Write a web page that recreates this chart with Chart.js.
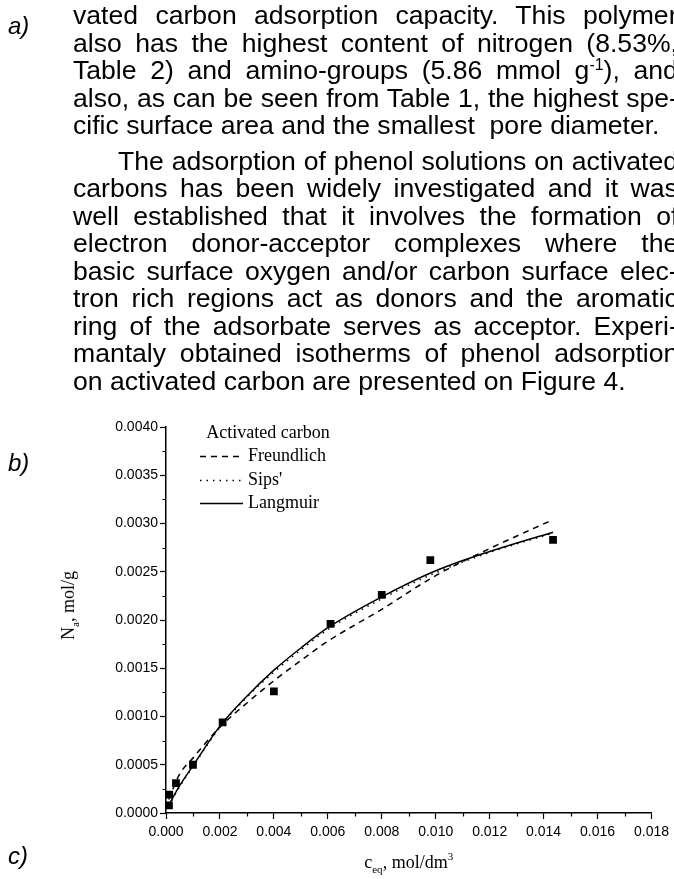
<!DOCTYPE html>
<html>
<head>
<meta charset="utf-8">
<script src="https://cdn.jsdelivr.net/npm/chart.js@4.4.1/dist/chart.umd.min.js"></script>
<style>
html, body { margin: 0; padding: 0; background: #fff; }
body { width: 674px; height: 879px; position: relative; overflow: hidden; color: #000;
       font-family: "Liberation Sans", Arial, sans-serif; }
#chart { position: absolute; left: 0; top: 0; }
.ln { position: absolute; left: 73px; white-space: nowrap; line-height: 28px; font-size: 25px; }
.ln span { display: inline-block; }
.ln sup { font-size: 60%; vertical-align: 9px; line-height: 0; }
.tag { position: absolute; left: 8px; font-style: italic; font-size: 24px; }
.ttl { position: absolute; font-family: "Liberation Serif", "Times New Roman", serif; font-size: 18px; white-space: nowrap; }
.ttl sub { font-size: 11px; vertical-align: -5px; line-height: 0; }
.ttl sup { font-size: 11px; vertical-align: 8px; line-height: 0; }
</style>
</head>
<body>
<canvas id="chart" width="674" height="879"></canvas>

<div class="tag" style="top:12px">a)</div>
<div class="tag" style="top:449px">b)</div>
<div class="tag" style="top:842px">c)</div>

<div class="ln j" style="top:1px"><span>vated carbon adsorption capacity. This polymer</span></div>
<div class="ln j" style="top:28.5px"><span>also has the highest content of nitrogen (8.53%,</span></div>
<div class="ln j" style="top:56px"><span>Table 2) and amino-groups (5.86 mmol g<sup>-1</sup>), and</span></div>
<div class="ln j" style="top:83.5px"><span>also, as can be seen from Table 1, the highest spe-</span></div>
<div class="ln" id="fitline" style="top:111px"><span>cific surface area and the smallest&nbsp; pore diameter.</span></div>
<div class="ln j" style="top:146.5px; left:118px" data-indent="45"><span>The adsorption of phenol solutions on activated</span></div>
<div class="ln j" style="top:174px"><span>carbons has been widely investigated and it was</span></div>
<div class="ln j" style="top:201.5px"><span>well established that it involves the formation of</span></div>
<div class="ln j" style="top:229px"><span>electron donor-acceptor complexes where the</span></div>
<div class="ln j" style="top:256.5px"><span>basic surface oxygen and/or carbon surface elec-</span></div>
<div class="ln j" style="top:284px"><span>tron rich regions act as donors and the aromatic</span></div>
<div class="ln j" style="top:311.5px"><span>ring of the adsorbate serves as acceptor. Experi-</span></div>
<div class="ln j" style="top:339px"><span>mantaly obtained isotherms of phenol adsorption</span></div>
<div class="ln" style="top:366.5px"><span>on activated carbon are presented on Figure 4.</span></div>

<div class="ttl" id="ytitle">N<sub>a</sub>, mol/g</div>
<div class="ttl" id="xtitle">c<sub>eq</sub>, mol/dm<sup>3</sup></div>

<script>
// measured points (phenol on activated carbon)
const obsX = [0.00011, 0.00012, 0.00037, 0.0010, 0.0021, 0.0040, 0.0061, 0.0080, 0.0098, 0.01435];
const obsY = [0.00008, 0.00019, 0.00031, 0.00050, 0.00094, 0.00126, 0.00196, 0.00226, 0.00262, 0.00283];

// fitted isotherms
const fitX = [0.0001, 0.0005, 0.001, 0.002, 0.003, 0.004, 0.005, 0.006, 0.008, 0.010, 0.012, 0.01435];
const freundlichY = [0.00014, 0.00040, 0.00057, 0.00089, 0.00114, 0.00137, 0.00158, 0.00178, 0.00211, 0.00246, 0.00274, 0.00304];
const sipsY       = [0.00007, 0.00027, 0.00048, 0.00089, 0.00120, 0.00146, 0.00169, 0.00190, 0.00222, 0.00249, 0.00270, 0.00290];
const langmuirY   = [0.00008, 0.00028, 0.00049, 0.00090, 0.00121, 0.00148, 0.00171, 0.00192, 0.00224, 0.00251, 0.00271, 0.00291];

// axes
const xMax = 0.018, xStep = 0.002;
const yMax = 0.004, yStep = 0.0005;

// text block: fit font so the paragraph end line has the scanned width, then justify
const colLeft = 73, colRight = 678;
(function () {
	const fit = document.querySelector('#fitline span');
	const w0 = fit.offsetWidth;
	const fs = 25 * 587 / w0;
	document.querySelectorAll('.ln').forEach(function (el) { el.style.fontSize = fs + 'px'; });
	document.querySelectorAll('.ln.j').forEach(function (el) {
		const sp = el.querySelector('span');
		const indent = parseFloat(el.dataset.indent || 0);
		const gaps = (sp.textContent.match(/ /g) || []).length;
		const extra = (colRight - colLeft - indent - sp.offsetWidth) / gaps;
		sp.style.wordSpacing = extra + 'px';
	});
})();

const pts = (xs, ys) => xs.map((x, i) => ({ x: x, y: ys[i] }));

const minorTicks = {
	id: 'minorTicks',
	afterDraw(chart) {
		const c = chart.ctx, a = chart.chartArea;
		const sx = chart.scales.x, sy = chart.scales.y;
		c.save();
		c.strokeStyle = '#000';
		c.lineWidth = 1.2;
		c.beginPath();
		for (let v = xStep / 2; v < xMax; v += xStep) {
			const px = Math.round(sx.getPixelForValue(v)) + 0.5;
			c.moveTo(px, a.bottom); c.lineTo(px, a.bottom + 3.5);
		}
		for (let v = yStep / 2; v < yMax; v += yStep) {
			const py = Math.round(sy.getPixelForValue(v)) + 0.5;
			c.moveTo(a.left, py); c.lineTo(a.left - 3.5, py);
		}
		c.stroke();
		c.restore();
	}
};

const legendBox = {
	id: 'legendBox',
	afterDraw(chart) {
		const c = chart.ctx, a = chart.chartArea;
		const ds = chart.data.datasets;
		c.save();
		c.fillStyle = '#000';
		c.font = '18px "Liberation Serif", "Times New Roman", serif';
		c.textBaseline = 'middle';
		c.textAlign = 'center';
		c.fillText(ds[0].label, a.left + 102, a.top + 6);
		c.textAlign = 'left';
		ds.slice(1).forEach(function (d, i) {
			const yy = Math.round(a.top + 29 + i * 23.5) + 0.5;
			c.strokeStyle = d.borderColor;
			c.lineWidth = d.borderWidth;
			c.setLineDash(d.borderDash || []);
			c.beginPath();
			c.moveTo(a.left + 34, yy);
			c.lineTo(a.left + 77, yy);
			c.stroke();
			c.setLineDash([]);
			c.fillText(d.label, a.left + 82, yy);
		});
		c.restore();
	}
};

const fitStyle = { showLine: true, borderColor: '#000', borderWidth: 1.5, pointRadius: 0,
	cubicInterpolationMode: 'monotone', fill: false };

const ctx = document.getElementById('chart').getContext('2d');
const chart = new Chart(ctx, {
	type: 'scatter',
	data: {
		datasets: [
			{ label: 'Activated carbon', data: pts(obsX, obsY), pointStyle: 'rect', pointRadius: 5.5,
			  backgroundColor: '#000', borderColor: '#000', borderWidth: 0, showLine: false },
			Object.assign({ label: 'Freundlich', data: pts(fitX, freundlichY), borderDash: [6, 5] }, fitStyle),
			Object.assign({ label: "Sips'", data: pts(fitX, sipsY), borderDash: [1.5, 5] }, fitStyle),
			Object.assign({ label: 'Langmuir', data: pts(fitX, langmuirY) }, fitStyle)
		]
	},
	options: {
		responsive: false,
		animation: false,
		layout: { autoPadding: false, padding: { left: 0, top: 427, right: 19, bottom: 0 } },
		plugins: { legend: { display: false }, tooltip: { enabled: false } },
		scales: {
			x: {
				type: 'linear', min: 0, max: xMax,
				grid: { drawOnChartArea: false, drawTicks: true, tickLength: 6, tickColor: '#000', tickWidth: 1.2 },
				border: { color: '#000', width: 1.5 },
				ticks: { stepSize: xStep, color: '#000', padding: 5, maxRotation: 0, autoSkip: false,
					font: { family: '"Liberation Sans", Arial, sans-serif', size: 14 },
					callback: v => v.toFixed(3) },
				afterFit: s => { s.height = 66; }
			},
			y: {
				type: 'linear', min: 0, max: yMax,
				grid: { drawOnChartArea: false, drawTicks: true, tickLength: 6, tickColor: '#000', tickWidth: 1.2 },
				border: { color: '#000', width: 1.5 },
				ticks: { stepSize: yStep, color: '#000', padding: 2, autoSkip: false,
					font: { family: '"Liberation Sans", Arial, sans-serif', size: 14 },
					callback: v => v.toFixed(4) },
				afterFit: s => { s.width = 166; }
			}
		}
	},
	plugins: [minorTicks, legendBox]
});

// axis titles placed against the chart area
(function () {
	const a = chart.chartArea;
	const yt = document.getElementById('ytitle');
	yt.style.left = (68 - yt.offsetWidth / 2) + 'px';
	yt.style.top = (605 - yt.offsetHeight / 2) + 'px';
	yt.style.transform = 'rotate(-90deg)';
	const xt = document.getElementById('xtitle');
	xt.style.left = ((a.left + a.right) / 2 - xt.offsetWidth / 2) + 'px';
	xt.style.top = (862 - xt.offsetHeight / 2) + 'px';
})();
</script>
</body>
</html>
